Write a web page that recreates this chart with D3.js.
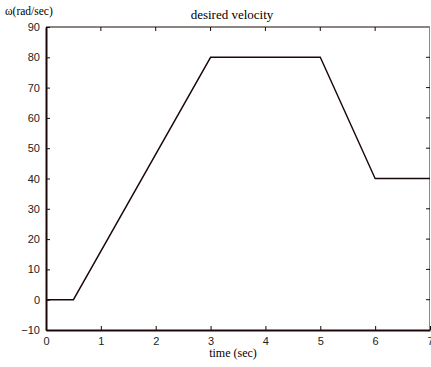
<!DOCTYPE html>
<html>
<head>
<meta charset="utf-8">
<script src="https://cdn.jsdelivr.net/npm/d3@7"></script>
<style>
  body { margin: 0; background: #fff; }
  svg { display: block; }
  .tick text { font-family: "Liberation Sans", Arial, sans-serif; font-size: 11px; fill: #222; }
</style>
</head>
<body>
<div id="chart"></div>
<script>
// breakpoints of the velocity profile
const timeSec = [0, 0.5, 3, 5, 6, 7];
const omega = [0, 0, 80, 80, 40, 40];
const xTicks = [0, 1, 2, 3, 4, 5, 6, 7];
const yTicks = [-10, 0, 10, 20, 30, 40, 50, 60, 70, 80, 90];

const width = 431, height = 367;
const margin = { top: 27, right: 1, bottom: 37, left: 46 };

const svg = d3.select('#chart').append('svg')
  .attr('width', width)
  .attr('height', height);

const x = d3.scaleLinear().domain([0, 7]).range([margin.left, width - margin.right]);
const y = d3.scaleLinear().domain([-10, 90]).range([height - margin.bottom, margin.top]);

const ink = '#1a0808';

// box (top & right thin)
svg.append('line')
  .attr('x1', x(0)).attr('x2', x(7)).attr('y1', y(90)).attr('y2', y(90))
  .attr('stroke', ink).attr('stroke-width', 1);
svg.append('line')
  .attr('x1', x(7) - 0.5).attr('x2', x(7) - 0.5).attr('y1', y(90)).attr('y2', y(-10))
  .attr('stroke', '#888').attr('stroke-width', 1);

// inward ticks on top and right
svg.selectAll('.ttick').data(xTicks.slice(1, -1)).enter().append('line')
  .attr('x1', d => x(d)).attr('x2', d => x(d))
  .attr('y1', y(90)).attr('y2', y(90) + 4)
  .attr('stroke', ink);
svg.selectAll('.rtick').data(yTicks.slice(1, -1)).enter().append('line')
  .attr('x1', x(7) - 4).attr('x2', x(7))
  .attr('y1', d => y(d)).attr('y2', d => y(d))
  .attr('stroke', ink);

// bottom axis
const gx = svg.append('g')
  .attr('transform', 'translate(0,' + y(-10) + ')')
  .call(d3.axisBottom(x).tickValues(xTicks).tickFormat(d3.format('d'))
    .tickSizeInner(-4).tickSizeOuter(0).tickPadding(7));
gx.select('.domain').attr('stroke', ink).attr('stroke-width', 2);
gx.selectAll('.tick line').attr('stroke', ink);

// left axis
const gy = svg.append('g')
  .attr('transform', 'translate(' + x(0) + ',0)')
  .call(d3.axisLeft(y).tickValues(yTicks).tickFormat(d3.format('d'))
    .tickSizeInner(-4).tickSizeOuter(0).tickPadding(6));
gy.select('.domain').attr('stroke', ink).attr('stroke-width', 2);
gy.selectAll('.tick line').attr('stroke', ink);

// profile line
const line = d3.line()
  .x((d, i) => x(timeSec[i]))
  .y(d => y(d));

svg.append('path')
  .datum(omega)
  .attr('fill', 'none')
  .attr('stroke', ink)
  .attr('stroke-width', 1.4)
  .attr('d', line);

// labels
svg.append('text')
  .attr('x', 232).attr('y', 19)
  .attr('text-anchor', 'middle')
  .style('font-family', '"Liberation Serif", "Times New Roman", serif')
  .style('font-size', '13px')
  .text('desired velocity');

svg.append('text')
  .attr('x', 233).attr('y', 357)
  .attr('text-anchor', 'middle')
  .style('font-family', '"Liberation Serif", "Times New Roman", serif')
  .style('font-size', '12px')
  .text('time (sec)');

svg.append('text')
  .attr('x', 5).attr('y', 15)
  .style('font-family', '"Liberation Serif", "Times New Roman", serif')
  .style('font-size', '11.5px')
  .text('ω(rad/sec)');
</script>
</body>
</html>
